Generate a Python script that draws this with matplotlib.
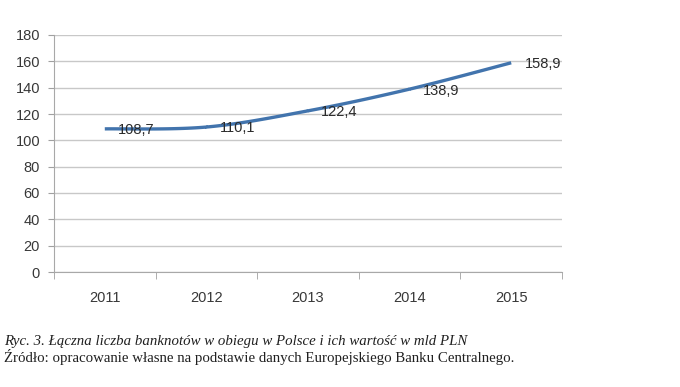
import numpy as np
import matplotlib
matplotlib.use("Agg")
import matplotlib.pyplot as plt

years = ["2011", "2012", "2013", "2014", "2015"]
values = [108.7, 110.1, 122.4, 138.9, 158.9]
labels = ["108,7", "110,1", "122,4", "138,9", "158,9"]
yticks = [0, 20, 40, 60, 80, 100, 120, 140, 160, 180]
caption1 = "Ryc. 3. Łączna liczba banknotów w obiegu w Polsce i ich wartość w mld PLN"
caption2 = "Źródło: opracowanie własne na podstawie danych Europejskiego Banku Centralnego."

fig = plt.figure(figsize=(6.8, 3.87), dpi=100)
ax = fig.add_axes([54/680, 1-272/387, (562-54)/680, (272-35)/387])

x = np.arange(len(values), dtype=float)
y = np.array(values, dtype=float)

# Catmull-Rom smoothing (like Excel smoothed line)
px = np.concatenate([[x[0]], x, [x[-1]]])
py = np.concatenate([[y[0]], y, [y[-1]]])
sx, sy = [], []
for i in range(1, len(px) - 2):
    t = np.linspace(0, 1, 30)
    p0x, p1x, p2x, p3x = px[i-1], px[i], px[i+1], px[i+2]
    p0y, p1y, p2y, p3y = py[i-1], py[i], py[i+1], py[i+2]
    def cr(a, b, c, d):
        return 0.5 * ((2*b) + (-a + c)*t + (2*a - 5*b + 4*c - d)*t**2 + (-a + 3*b - 3*c + d)*t**3)
    sx.extend(cr(p0x, p1x, p2x, p3x))
    sy.extend(cr(p0y, p1y, p2y, p3y))

ax.plot(sx, sy, color="#4274ad", lw=2.4, solid_capstyle="butt", zorder=3)

for xi, yi, lab in zip(x, y, labels):
    ax.annotate(lab, (xi, yi), xytext=(9.5, -1), textcoords="offset points",
                ha="left", va="center", fontsize=10.5, color="#2a2a2a",
                family="Liberation Sans", zorder=4)

ax.set_xlim(-0.5, len(values) - 0.5)
ax.set_ylim(0, 180)
ax.set_yticks(yticks)
ax.set_yticklabels([str(v) for v in yticks], fontsize=10.5, color="#383838", family="Liberation Sans")
ax.yaxis.grid(True, color="#c8c8c8", lw=1)
ax.set_axisbelow(True)

ax.set_xticks(x)
ax.set_xticklabels(years, fontsize=10.5, color="#383838", family="Liberation Sans")
ax.tick_params(axis="x", length=0, pad=14)
ax.set_xticks(np.arange(-0.5, len(values), 1.0), minor=True)
ax.tick_params(axis="x", which="minor", length=5, color="#a0a0a0", direction="out")
ax.tick_params(axis="y", length=4, color="#a0a0a0", pad=6)

for s in ["top", "right"]:
    ax.spines[s].set_visible(False)
ax.spines["left"].set_color("#a8a8a8")
ax.spines["bottom"].set_color("#a8a8a8")

fig.text(4/680, 1-342/387, caption1, fontsize=10.7, style="italic", family="Liberation Serif",
         color="#202020", va="center")
fig.text(4/680, 1-357/387, caption2, fontsize=10.7, family="Liberation Serif",
         color="#202020", va="center")

fig.savefig("out.png", dpi=100)
